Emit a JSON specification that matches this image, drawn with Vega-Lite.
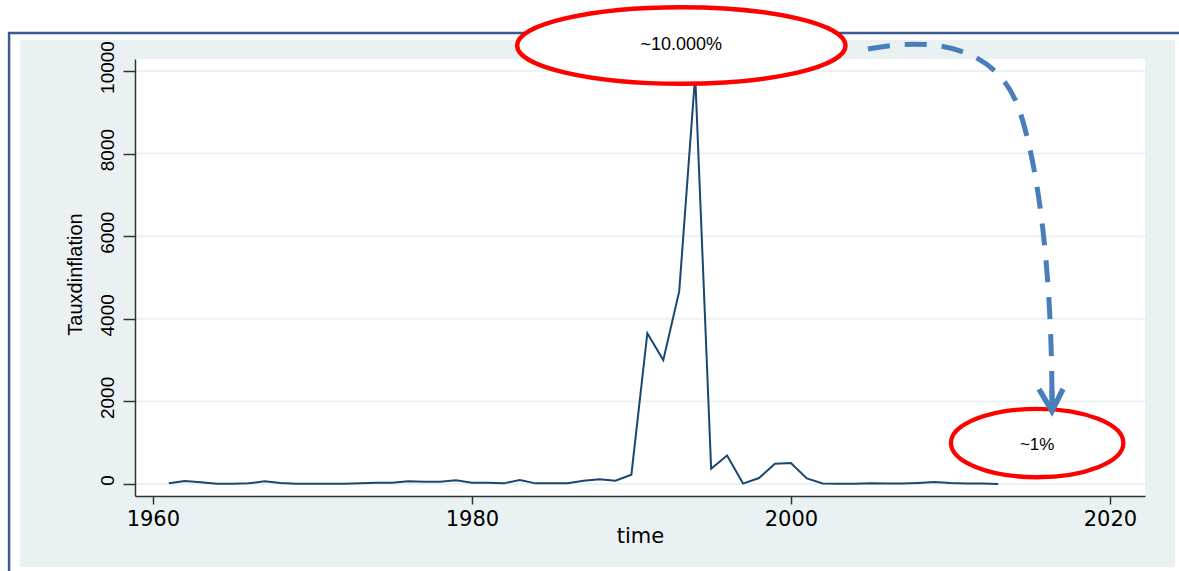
{
  "$schema": "https://vega.github.io/schema/vega-lite/v6.json",
  "width": 1010,
  "height": 437,
  "autosize": {"type": "none"},
  "padding": {"left": 135, "top": 59, "right": 34, "bottom": 75},
  "background": "white",
  "config": {"view": {"stroke": null, "fill": null}},
  "data": {
    "values": [
      {"year": 1961, "rate": 16}, {"year": 1962, "rate": 73}, {"year": 1963, "rate": 40},
      {"year": 1964, "rate": 8}, {"year": 1965, "rate": 5}, {"year": 1966, "rate": 16},
      {"year": 1967, "rate": 65}, {"year": 1968, "rate": 24}, {"year": 1969, "rate": 8},
      {"year": 1970, "rate": 5}, {"year": 1971, "rate": 5}, {"year": 1972, "rate": 8},
      {"year": 1973, "rate": 16}, {"year": 1974, "rate": 32}, {"year": 1975, "rate": 32},
      {"year": 1976, "rate": 65}, {"year": 1977, "rate": 57}, {"year": 1978, "rate": 57},
      {"year": 1979, "rate": 89}, {"year": 1980, "rate": 32}, {"year": 1981, "rate": 32},
      {"year": 1982, "rate": 16}, {"year": 1983, "rate": 97}, {"year": 1984, "rate": 16},
      {"year": 1985, "rate": 16}, {"year": 1986, "rate": 16}, {"year": 1987, "rate": 81},
      {"year": 1988, "rate": 113}, {"year": 1989, "rate": 81}, {"year": 1990, "rate": 226},
      {"year": 1991, "rate": 3650}, {"year": 1992, "rate": 3000}, {"year": 1993, "rate": 4670},
      {"year": 1994, "rate": 9900}, {"year": 1995, "rate": 370}, {"year": 1996, "rate": 692},
      {"year": 1997, "rate": 10}, {"year": 1998, "rate": 145}, {"year": 1999, "rate": 491},
      {"year": 2000, "rate": 508}, {"year": 2001, "rate": 136}, {"year": 2002, "rate": 15},
      {"year": 2003, "rate": 5}, {"year": 2004, "rate": 4}, {"year": 2005, "rate": 21},
      {"year": 2006, "rate": 13}, {"year": 2007, "rate": 10}, {"year": 2008, "rate": 27},
      {"year": 2009, "rate": 50}, {"year": 2010, "rate": 23}, {"year": 2011, "rate": 15},
      {"year": 2012, "rate": 10}, {"year": 2013, "rate": 1}
    ]
  },
  "layer": [
    {
      "data": {"values": [{}]},
      "mark": {"type": "rect", "filled": false, "stroke": "#3A5A92", "strokeWidth": 2.5, "clip": false},
      "encoding": {
        "x": {"datum": 1950.986, "type": "quantitative", "scale": {"domain": [1958.88, 2022.2], "nice": false, "zero": false},
          "axis": {"values": [1960, 1980, 2000, 2020], "format": "d", "title": "time", "grid": false, "domainColor": "#333333", "domainWidth": 1.5, "tickColor": "#333333", "tickWidth": 1.5, "tickSize": 8, "labelPadding": 21, "labelBaseline": "alphabetic", "labelFont": "DejaVu Sans", "labelFontSize": 21, "labelColor": "#000000", "labelFlush": false, "labelOverlap": false, "titleFont": "DejaVu Sans", "titleFontSize": 21, "titleFontWeight": "normal", "titleColor": "#000000", "titleBaseline": "alphabetic", "titleY": 46, "zindex": 1}},
        "x2": {"datum": 2030},
        "y": {"datum": 10919.5, "type": "quantitative", "scale": {"domain": [-290, 10290], "nice": false, "zero": false},
          "axis": {"values": [0, 2000, 4000, 6000, 8000, 10000], "format": "d", "title": "Tauxdinflation", "grid": false, "domainColor": "#333333", "domainWidth": 1.5, "tickColor": "#333333", "tickWidth": 1.5, "tickSize": 12, "labelAngle": 270, "labelAlign": "center", "labelBaseline": "alphabetic", "labelPadding": 10, "labelFont": "Liberation Sans", "labelFontSize": 19, "labelColor": "#000000", "labelOffset": -4, "labelOverlap": false, "titleFont": "Liberation Sans", "titleFontSize": 20, "titleFontWeight": "normal", "titleColor": "#000000", "titleAngle": 270, "titleAlign": "center", "titleBaseline": "alphabetic", "titleX": -54, "titleY": 215, "zindex": 1}},
        "y2": {"datum": -4000}
      }
    },
    {
      "data": {"values": [{}]},
      "mark": {"type": "rect", "fill": "#EAF1F3", "clip": false},
      "encoding": {
        "x": {"datum": 1951.676, "type": "quantitative", "scale": {"domain": [1958.88, 2022.2], "nice": false, "zero": false},
          "axis": {"values": [1960, 1980, 2000, 2020], "format": "d", "title": "time", "grid": false, "domainColor": "#333333", "domainWidth": 1.5, "tickColor": "#333333", "tickWidth": 1.5, "tickSize": 8, "labelPadding": 21, "labelBaseline": "alphabetic", "labelFont": "DejaVu Sans", "labelFontSize": 21, "labelColor": "#000000", "labelFlush": false, "labelOverlap": false, "titleFont": "DejaVu Sans", "titleFontSize": 21, "titleFontWeight": "normal", "titleColor": "#000000", "titleBaseline": "alphabetic", "titleY": 46, "zindex": 1}},
        "x2": {"datum": 2024.075},
        "y": {"datum": 10750, "type": "quantitative", "scale": {"domain": [-290, 10290], "nice": false, "zero": false},
          "axis": {"values": [0, 2000, 4000, 6000, 8000, 10000], "format": "d", "title": "Tauxdinflation", "grid": false, "domainColor": "#333333", "domainWidth": 1.5, "tickColor": "#333333", "tickWidth": 1.5, "tickSize": 12, "labelAngle": 270, "labelAlign": "center", "labelBaseline": "alphabetic", "labelPadding": 10, "labelFont": "Liberation Sans", "labelFontSize": 19, "labelColor": "#000000", "labelOffset": -4, "labelOverlap": false, "titleFont": "Liberation Sans", "titleFontSize": 20, "titleFontWeight": "normal", "titleColor": "#000000", "titleAngle": 270, "titleAlign": "center", "titleBaseline": "alphabetic", "titleX": -54, "titleY": 215, "zindex": 1}},
        "y2": {"datum": -2010}
      }
    },
    {
      "data": {"values": [{}]},
      "mark": {"type": "rect", "fill": "#FFFFFF", "clip": false},
      "encoding": {
        "x": {"datum": 1958.88, "type": "quantitative", "scale": {"domain": [1958.88, 2022.2], "nice": false, "zero": false},
          "axis": {"values": [1960, 1980, 2000, 2020], "format": "d", "title": "time", "grid": false, "domainColor": "#333333", "domainWidth": 1.5, "tickColor": "#333333", "tickWidth": 1.5, "tickSize": 8, "labelPadding": 21, "labelBaseline": "alphabetic", "labelFont": "DejaVu Sans", "labelFontSize": 21, "labelColor": "#000000", "labelFlush": false, "labelOverlap": false, "titleFont": "DejaVu Sans", "titleFontSize": 21, "titleFontWeight": "normal", "titleColor": "#000000", "titleBaseline": "alphabetic", "titleY": 46, "zindex": 1}},
        "x2": {"datum": 2022.2},
        "y": {"datum": -290, "type": "quantitative", "scale": {"domain": [-290, 10290], "nice": false, "zero": false},
          "axis": {"values": [0, 2000, 4000, 6000, 8000, 10000], "format": "d", "title": "Tauxdinflation", "grid": false, "domainColor": "#333333", "domainWidth": 1.5, "tickColor": "#333333", "tickWidth": 1.5, "tickSize": 12, "labelAngle": 270, "labelAlign": "center", "labelBaseline": "alphabetic", "labelPadding": 10, "labelFont": "Liberation Sans", "labelFontSize": 19, "labelColor": "#000000", "labelOffset": -4, "labelOverlap": false, "titleFont": "Liberation Sans", "titleFontSize": 20, "titleFontWeight": "normal", "titleColor": "#000000", "titleAngle": 270, "titleAlign": "center", "titleBaseline": "alphabetic", "titleX": -54, "titleY": 215, "zindex": 1}},
        "y2": {"datum": 10290}
      }
    },
    {
      "data": {"values": [{"g": 0}, {"g": 2000}, {"g": 4000}, {"g": 6000}, {"g": 8000}, {"g": 10000}]},
      "mark": {"type": "rule", "color": "#EAF2F3", "strokeWidth": 2},
      "encoding": {
        "y": {"field": "g", "type": "quantitative", "scale": {"domain": [-290, 10290], "nice": false, "zero": false},
          "axis": {"values": [0, 2000, 4000, 6000, 8000, 10000], "format": "d", "title": "Tauxdinflation", "grid": false, "domainColor": "#333333", "domainWidth": 1.5, "tickColor": "#333333", "tickWidth": 1.5, "tickSize": 12, "labelAngle": 270, "labelAlign": "center", "labelBaseline": "alphabetic", "labelPadding": 10, "labelFont": "Liberation Sans", "labelFontSize": 19, "labelColor": "#000000", "labelOffset": -4, "labelOverlap": false, "titleFont": "Liberation Sans", "titleFontSize": 20, "titleFontWeight": "normal", "titleColor": "#000000", "titleAngle": 270, "titleAlign": "center", "titleBaseline": "alphabetic", "titleX": -54, "titleY": 215, "zindex": 1}}
      }
    },
    {
      "mark": {"type": "line", "color": "#1A476F", "strokeWidth": 2, "clip": false},
      "encoding": {
        "x": {"field": "year", "type": "quantitative", "scale": {"domain": [1958.88, 2022.2], "nice": false, "zero": false},
          "axis": {"values": [1960, 1980, 2000, 2020], "format": "d", "title": "time", "grid": false, "domainColor": "#333333", "domainWidth": 1.5, "tickColor": "#333333", "tickWidth": 1.5, "tickSize": 8, "labelPadding": 21, "labelBaseline": "alphabetic", "labelFont": "DejaVu Sans", "labelFontSize": 21, "labelColor": "#000000", "labelFlush": false, "labelOverlap": false, "titleFont": "DejaVu Sans", "titleFontSize": 21, "titleFontWeight": "normal", "titleColor": "#000000", "titleBaseline": "alphabetic", "titleY": 46, "zindex": 1}},
        "y": {"field": "rate", "type": "quantitative", "scale": {"domain": [-290, 10290], "nice": false, "zero": false},
          "axis": {"values": [0, 2000, 4000, 6000, 8000, 10000], "format": "d", "title": "Tauxdinflation", "grid": false, "domainColor": "#333333", "domainWidth": 1.5, "tickColor": "#333333", "tickWidth": 1.5, "tickSize": 12, "labelAngle": 270, "labelAlign": "center", "labelBaseline": "alphabetic", "labelPadding": 10, "labelFont": "Liberation Sans", "labelFontSize": 19, "labelColor": "#000000", "labelOffset": -4, "labelOverlap": false, "titleFont": "Liberation Sans", "titleFontSize": 20, "titleFontWeight": "normal", "titleColor": "#000000", "titleAngle": 270, "titleAlign": "center", "titleBaseline": "alphabetic", "titleX": -54, "titleY": 215, "zindex": 1}}
      }
    },
    {
      "data": {"values": [{}]},
      "mark": {
        "type": "point", "filled": true, "fill": "#FFFFFF", "stroke": "#FF0000", "strokeWidth": 4.5,
        "opacity": 1, "fillOpacity": 1, "strokeOpacity": 1, "size": 4, "clip": false,
        "shape": "M 164.2 0 C 164.2 21.15 90.69 38.3 0 38.3 C -90.69 38.3 -164.2 21.15 -164.2 0 C -164.2 -21.15 -90.69 -38.3 0 -38.3 C 90.69 -38.3 164.2 -21.15 164.2 0 Z"
      },
      "encoding": {
        "x": {"datum": 1993.13, "type": "quantitative", "scale": {"domain": [1958.88, 2022.2], "nice": false, "zero": false},
          "axis": {"values": [1960, 1980, 2000, 2020], "format": "d", "title": "time", "grid": false, "domainColor": "#333333", "domainWidth": 1.5, "tickColor": "#333333", "tickWidth": 1.5, "tickSize": 8, "labelPadding": 21, "labelBaseline": "alphabetic", "labelFont": "DejaVu Sans", "labelFontSize": 21, "labelColor": "#000000", "labelFlush": false, "labelOverlap": false, "titleFont": "DejaVu Sans", "titleFontSize": 21, "titleFontWeight": "normal", "titleColor": "#000000", "titleBaseline": "alphabetic", "titleY": 46, "zindex": 1}},
        "y": {"datum": 10617, "type": "quantitative", "scale": {"domain": [-290, 10290], "nice": false, "zero": false},
          "axis": {"values": [0, 2000, 4000, 6000, 8000, 10000], "format": "d", "title": "Tauxdinflation", "grid": false, "domainColor": "#333333", "domainWidth": 1.5, "tickColor": "#333333", "tickWidth": 1.5, "tickSize": 12, "labelAngle": 270, "labelAlign": "center", "labelBaseline": "alphabetic", "labelPadding": 10, "labelFont": "Liberation Sans", "labelFontSize": 19, "labelColor": "#000000", "labelOffset": -4, "labelOverlap": false, "titleFont": "Liberation Sans", "titleFontSize": 20, "titleFontWeight": "normal", "titleColor": "#000000", "titleAngle": 270, "titleAlign": "center", "titleBaseline": "alphabetic", "titleX": -54, "titleY": 215, "zindex": 1}}
      }
    },
    {
      "data": {"values": [{"label": "~10.000%"}]},
      "mark": {"type": "text", "font": "Liberation Sans", "fontSize": 18, "color": "#000000", "align": "center", "baseline": "middle", "clip": false},
      "encoding": {
        "text": {"field": "label"},
        "x": {"datum": 1993.13, "type": "quantitative", "scale": {"domain": [1958.88, 2022.2], "nice": false, "zero": false},
          "axis": {"values": [1960, 1980, 2000, 2020], "format": "d", "title": "time", "grid": false, "domainColor": "#333333", "domainWidth": 1.5, "tickColor": "#333333", "tickWidth": 1.5, "tickSize": 8, "labelPadding": 21, "labelBaseline": "alphabetic", "labelFont": "DejaVu Sans", "labelFontSize": 21, "labelColor": "#000000", "labelFlush": false, "labelOverlap": false, "titleFont": "DejaVu Sans", "titleFontSize": 21, "titleFontWeight": "normal", "titleColor": "#000000", "titleBaseline": "alphabetic", "titleY": 46, "zindex": 1}},
        "y": {"datum": 10617, "type": "quantitative", "scale": {"domain": [-290, 10290], "nice": false, "zero": false},
          "axis": {"values": [0, 2000, 4000, 6000, 8000, 10000], "format": "d", "title": "Tauxdinflation", "grid": false, "domainColor": "#333333", "domainWidth": 1.5, "tickColor": "#333333", "tickWidth": 1.5, "tickSize": 12, "labelAngle": 270, "labelAlign": "center", "labelBaseline": "alphabetic", "labelPadding": 10, "labelFont": "Liberation Sans", "labelFontSize": 19, "labelColor": "#000000", "labelOffset": -4, "labelOverlap": false, "titleFont": "Liberation Sans", "titleFontSize": 20, "titleFontWeight": "normal", "titleColor": "#000000", "titleAngle": 270, "titleAlign": "center", "titleBaseline": "alphabetic", "titleX": -54, "titleY": 215, "zindex": 1}}
      }
    },
    {
      "data": {"values": [{}]},
      "mark": {
        "type": "point", "filled": true, "fill": "#FFFFFF", "stroke": "#FF0000", "strokeWidth": 4.3,
        "opacity": 1, "fillOpacity": 1, "strokeOpacity": 1, "size": 4, "clip": false,
        "shape": "M 86.2 0 C 86.2 18.89 47.61 34.2 0 34.2 C -47.61 34.2 -86.2 18.89 -86.2 0 C -86.2 -18.89 -47.61 -34.2 0 -34.2 C 47.61 -34.2 86.2 -18.89 86.2 0 Z"
      },
      "encoding": {
        "x": {"datum": 2015.44, "type": "quantitative", "scale": {"domain": [1958.88, 2022.2], "nice": false, "zero": false},
          "axis": {"values": [1960, 1980, 2000, 2020], "format": "d", "title": "time", "grid": false, "domainColor": "#333333", "domainWidth": 1.5, "tickColor": "#333333", "tickWidth": 1.5, "tickSize": 8, "labelPadding": 21, "labelBaseline": "alphabetic", "labelFont": "DejaVu Sans", "labelFontSize": 21, "labelColor": "#000000", "labelFlush": false, "labelOverlap": false, "titleFont": "DejaVu Sans", "titleFontSize": 21, "titleFontWeight": "normal", "titleColor": "#000000", "titleBaseline": "alphabetic", "titleY": 46, "zindex": 1}},
        "y": {"datum": 992, "type": "quantitative", "scale": {"domain": [-290, 10290], "nice": false, "zero": false},
          "axis": {"values": [0, 2000, 4000, 6000, 8000, 10000], "format": "d", "title": "Tauxdinflation", "grid": false, "domainColor": "#333333", "domainWidth": 1.5, "tickColor": "#333333", "tickWidth": 1.5, "tickSize": 12, "labelAngle": 270, "labelAlign": "center", "labelBaseline": "alphabetic", "labelPadding": 10, "labelFont": "Liberation Sans", "labelFontSize": 19, "labelColor": "#000000", "labelOffset": -4, "labelOverlap": false, "titleFont": "Liberation Sans", "titleFontSize": 20, "titleFontWeight": "normal", "titleColor": "#000000", "titleAngle": 270, "titleAlign": "center", "titleBaseline": "alphabetic", "titleX": -54, "titleY": 215, "zindex": 1}}
      }
    },
    {
      "data": {"values": [{"label": "~1%"}]},
      "mark": {"type": "text", "font": "Liberation Sans", "fontSize": 17, "color": "#000000", "align": "center", "baseline": "middle", "clip": false},
      "encoding": {
        "text": {"field": "label"},
        "x": {"datum": 2015.44, "type": "quantitative", "scale": {"domain": [1958.88, 2022.2], "nice": false, "zero": false},
          "axis": {"values": [1960, 1980, 2000, 2020], "format": "d", "title": "time", "grid": false, "domainColor": "#333333", "domainWidth": 1.5, "tickColor": "#333333", "tickWidth": 1.5, "tickSize": 8, "labelPadding": 21, "labelBaseline": "alphabetic", "labelFont": "DejaVu Sans", "labelFontSize": 21, "labelColor": "#000000", "labelFlush": false, "labelOverlap": false, "titleFont": "DejaVu Sans", "titleFontSize": 21, "titleFontWeight": "normal", "titleColor": "#000000", "titleBaseline": "alphabetic", "titleY": 46, "zindex": 1}},
        "y": {"datum": 944, "type": "quantitative", "scale": {"domain": [-290, 10290], "nice": false, "zero": false},
          "axis": {"values": [0, 2000, 4000, 6000, 8000, 10000], "format": "d", "title": "Tauxdinflation", "grid": false, "domainColor": "#333333", "domainWidth": 1.5, "tickColor": "#333333", "tickWidth": 1.5, "tickSize": 12, "labelAngle": 270, "labelAlign": "center", "labelBaseline": "alphabetic", "labelPadding": 10, "labelFont": "Liberation Sans", "labelFontSize": 19, "labelColor": "#000000", "labelOffset": -4, "labelOverlap": false, "titleFont": "Liberation Sans", "titleFontSize": 20, "titleFontWeight": "normal", "titleColor": "#000000", "titleAngle": 270, "titleAlign": "center", "titleBaseline": "alphabetic", "titleX": -54, "titleY": 215, "zindex": 1}}
      }
    },
    {
      "data": {"values": [{}]},
      "mark": {
        "type": "point", "filled": false, "stroke": "#4A7EBB", "strokeWidth": 5, "strokeDash": [22, 15],
        "strokeCap": "butt", "opacity": 1, "strokeOpacity": 1, "size": 4, "clip": false,
        "shape": "M -184 -364 C -112 -378 -52 -363 -32 -301 C -16 -253 0 -153 0 -8"
      },
      "encoding": {
        "x": {"datum": 2016.37, "type": "quantitative", "scale": {"domain": [1958.88, 2022.2], "nice": false, "zero": false},
          "axis": {"values": [1960, 1980, 2000, 2020], "format": "d", "title": "time", "grid": false, "domainColor": "#333333", "domainWidth": 1.5, "tickColor": "#333333", "tickWidth": 1.5, "tickSize": 8, "labelPadding": 21, "labelBaseline": "alphabetic", "labelFont": "DejaVu Sans", "labelFontSize": 21, "labelColor": "#000000", "labelFlush": false, "labelOverlap": false, "titleFont": "DejaVu Sans", "titleFontSize": 21, "titleFontWeight": "normal", "titleColor": "#000000", "titleBaseline": "alphabetic", "titleY": 46, "zindex": 1}},
        "y": {"datum": 1718.6, "type": "quantitative", "scale": {"domain": [-290, 10290], "nice": false, "zero": false},
          "axis": {"values": [0, 2000, 4000, 6000, 8000, 10000], "format": "d", "title": "Tauxdinflation", "grid": false, "domainColor": "#333333", "domainWidth": 1.5, "tickColor": "#333333", "tickWidth": 1.5, "tickSize": 12, "labelAngle": 270, "labelAlign": "center", "labelBaseline": "alphabetic", "labelPadding": 10, "labelFont": "Liberation Sans", "labelFontSize": 19, "labelColor": "#000000", "labelOffset": -4, "labelOverlap": false, "titleFont": "Liberation Sans", "titleFontSize": 20, "titleFontWeight": "normal", "titleColor": "#000000", "titleAngle": 270, "titleAlign": "center", "titleBaseline": "alphabetic", "titleX": -54, "titleY": 215, "zindex": 1}}
      }
    },
    {
      "data": {"values": [{}]},
      "mark": {
        "type": "point", "filled": false, "stroke": "#4A7EBB", "strokeWidth": 5.5,
        "strokeJoin": "miter", "strokeCap": "butt", "opacity": 1, "strokeOpacity": 1, "size": 4, "clip": false,
        "shape": "M -13 -24 L 0 -2 L 11 -24 M 0 -2 L 0 -22"
      },
      "encoding": {
        "x": {"datum": 2016.37, "type": "quantitative", "scale": {"domain": [1958.88, 2022.2], "nice": false, "zero": false},
          "axis": {"values": [1960, 1980, 2000, 2020], "format": "d", "title": "time", "grid": false, "domainColor": "#333333", "domainWidth": 1.5, "tickColor": "#333333", "tickWidth": 1.5, "tickSize": 8, "labelPadding": 21, "labelBaseline": "alphabetic", "labelFont": "DejaVu Sans", "labelFontSize": 21, "labelColor": "#000000", "labelFlush": false, "labelOverlap": false, "titleFont": "DejaVu Sans", "titleFontSize": 21, "titleFontWeight": "normal", "titleColor": "#000000", "titleBaseline": "alphabetic", "titleY": 46, "zindex": 1}},
        "y": {"datum": 1718.6, "type": "quantitative", "scale": {"domain": [-290, 10290], "nice": false, "zero": false},
          "axis": {"values": [0, 2000, 4000, 6000, 8000, 10000], "format": "d", "title": "Tauxdinflation", "grid": false, "domainColor": "#333333", "domainWidth": 1.5, "tickColor": "#333333", "tickWidth": 1.5, "tickSize": 12, "labelAngle": 270, "labelAlign": "center", "labelBaseline": "alphabetic", "labelPadding": 10, "labelFont": "Liberation Sans", "labelFontSize": 19, "labelColor": "#000000", "labelOffset": -4, "labelOverlap": false, "titleFont": "Liberation Sans", "titleFontSize": 20, "titleFontWeight": "normal", "titleColor": "#000000", "titleAngle": 270, "titleAlign": "center", "titleBaseline": "alphabetic", "titleX": -54, "titleY": 215, "zindex": 1}}
      }
    }
  ]
}
